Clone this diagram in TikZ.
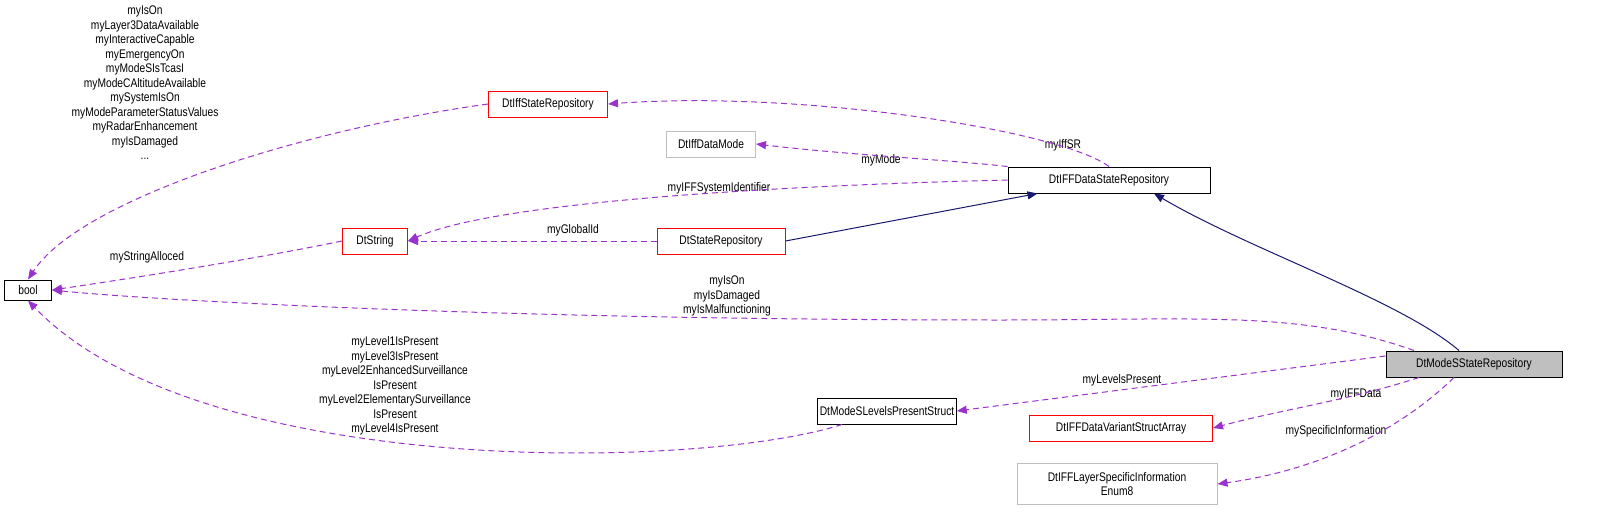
\documentclass[tikz,border=0pt]{standalone}
\usepackage{fontspec}
\setmainfont{Liberation Sans}[FakeStretch=0.82]
\usetikzlibrary{arrows.meta}
\definecolor{pur}{HTML}{9A32CD}
\definecolor{nav}{HTML}{191970}
\begin{document}
\begin{tikzpicture}[x=1pt,y=-1pt,font=\fontsize{12.5}{14}\selectfont,line width=1pt,
 box/.style={draw,rectangle,inner sep=2pt,minimum height=26pt,align=center,line width=1pt},
 bk/.style={box,draw=black},
 rd/.style={box,draw=red},
 gr/.style={box,draw=black!25},
 dep/.style={draw=pur,dash pattern=on 6pt off 4pt,-{Triangle[length=10pt,width=8pt]}},
 inh/.style={draw=nav,-{Triangle[length=10pt,width=8pt]}},
 lab/.style={align=center,inner sep=0pt,font=\fontsize{12.5}{14.5}\selectfont}]
\useasboundingbox (0,0) rectangle (1619,527);
\node[bk,minimum width=47pt,minimum height=20pt] (bool) at (28,290) {bool};
\node[rd,minimum width=119pt] (isr) at (548,104) {DtIffStateRepository};
\node[gr,minimum width=89pt] (idm) at (711,144) {DtIffDataMode};
\node[bk,minimum width=202pt] (idsr) at (1109,180) {DtIFFDataStateRepository};
\node[rd,minimum width=65pt] (str) at (375,241) {DtString};
\node[rd,minimum width=128pt] (sr) at (721,241) {DtStateRepository};
\node[bk,fill=black!25,minimum width=176pt] (mssr) at (1474,364) {DtModeSStateRepository};
\node[bk,minimum width=122pt] (lps) at (887,411) {DtModeSLevelsPresentStruct};
\node[rd,minimum width=183pt] (vsa) at (1121,428) {DtIFFDataVariantStructArray};
\node[gr,minimum width=200pt,minimum height=41pt] (enum) at (1117,484) {DtIFFLayerSpecificInformation\\Enum8};
% labels
\node[lab] (l1) at (145,83) {myIsOn\\myLayer3DataAvailable\\myInteractiveCapable\\myEmergencyOn\\myModeSIsTcasI\\myModeCAltitudeAvailable\\mySystemIsOn\\myModeParameterStatusValues\\myRadarEnhancement\\myIsDamaged\\...};
\node[lab] (l2) at (147,257) {myStringAlloced};
\node[lab] (l3) at (1063,145) {myIffSR};
\node[lab] (l4) at (881,160) {myMode};
\node[lab] (l5) at (719,188) {myIFFSystemIdentifier};
\node[lab] (l6) at (573,230) {myGlobalId};
\node[lab] (l7) at (727,296) {myIsOn\\myIsDamaged\\myIsMalfunctioning};
\node[lab] (l8) at (1122,380) {myLevelsPresent};
\node[lab] (l9) at (1356,394) {myIFFData};
\node[lab] (l10) at (1336,431) {mySpecificInformation};
\node[lab] (l11) at (395,386) {myLevel1IsPresent\\myLevel3IsPresent\\myLevel2EnhancedSurveillance\\IsPresent\\myLevel2ElementarySurveillance\\IsPresent\\myLevel4IsPresent};
% edges
\draw[dep] (isr.west) .. controls (300,130) and (80,200) .. (bool.north);
\draw[dep] (str.west) .. controls (250,260) and (120,280) .. (bool.east);
\draw[dep] (idsr.north) .. controls (1060,130) and (800,90) .. (isr.east);
\draw[dep] (idsr.north west) .. controls (950,160) and (850,155) .. (idm.east);
\draw[dep] (idsr.west) .. controls (800,185) and (500,200) .. (str.east);
\draw[dep] (sr.west) -- (str.east);
\draw[inh] (sr.east) -- ([xshift=30pt]idsr.south west);
\draw[inh] ([xshift=-15pt]mssr.north) .. controls (1400,300) and (1250,250) .. ([xshift=45pt]idsr.south);
\draw[dep] ([xshift=-60pt]mssr.north) .. controls (1300,310) and (1200,320) .. (1000,320) .. controls (500,320) and (150,300) .. (bool.east);
\draw[dep] ([yshift=8pt]mssr.west) -- (lps.east);
\draw[dep] ([xshift=-55pt]mssr.south) .. controls (1350,400) and (1280,410) .. (vsa.east);
\draw[dep] ([xshift=-20pt]mssr.south) .. controls (1400,430) and (1320,470) .. (enum.east);
\draw[dep] ([xshift=-45pt]lps.south) .. controls (700,470) and (200,480) .. (bool.south);
\end{tikzpicture}
\end{document}
